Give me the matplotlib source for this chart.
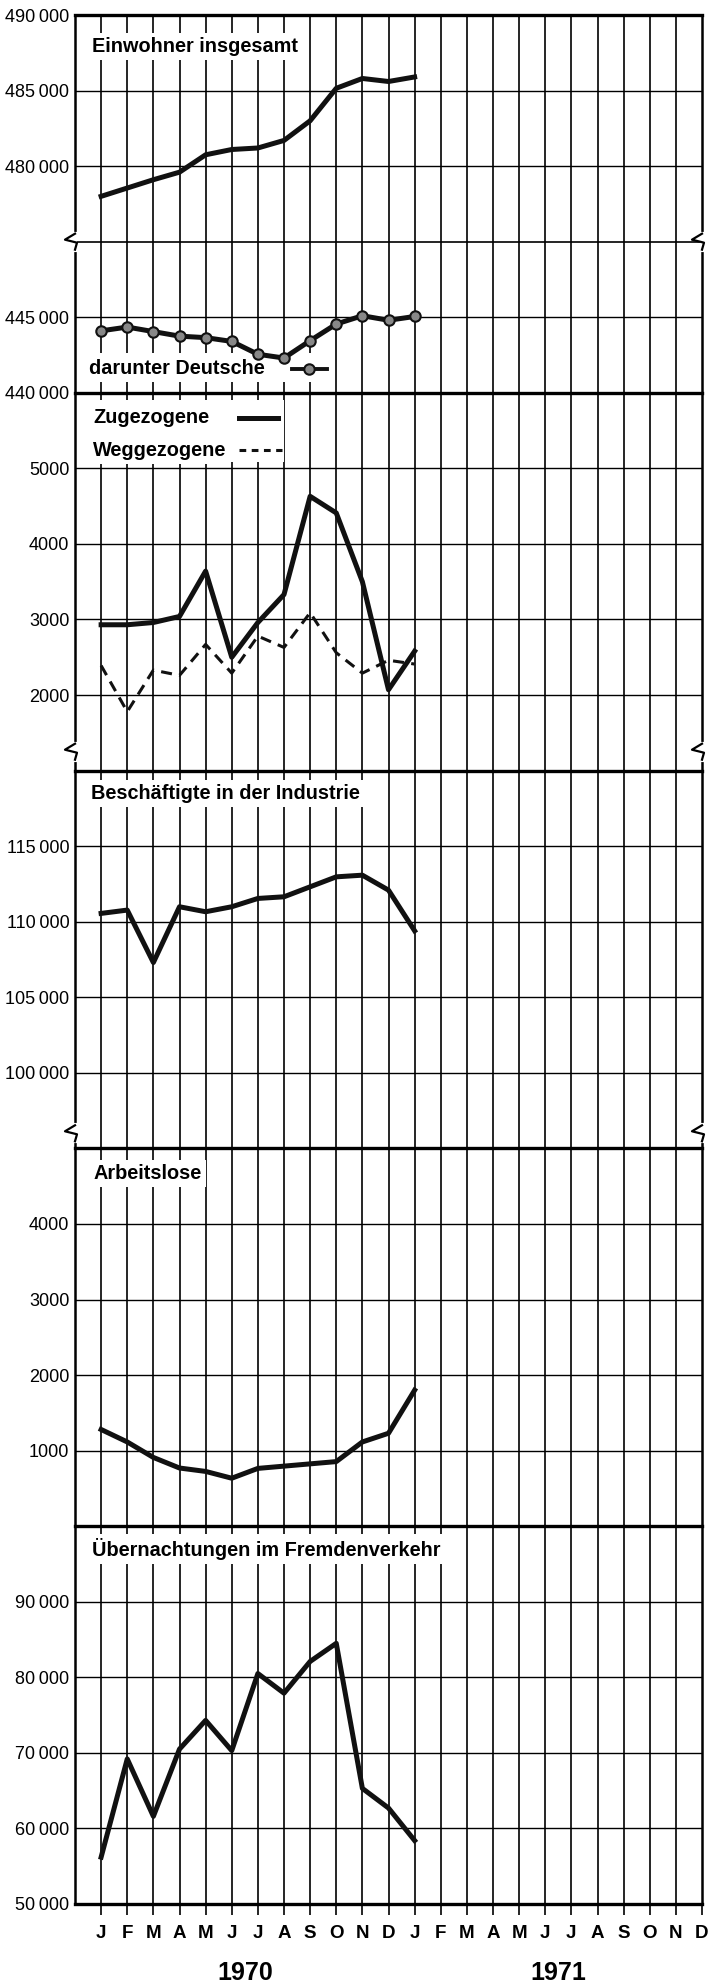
import matplotlib
matplotlib.use('Agg')
import matplotlib.pyplot as plt
from matplotlib.lines import Line2D
from matplotlib.patches import Rectangle
from matplotlib import transforms

plt.rcParams['font.family'] = ['Liberation Sans', 'DejaVu Sans']

# monatswerte jan 1970 .. jan 1971
monate = ['J', 'F', 'M', 'A', 'M', 'J', 'J', 'A', 'S', 'O', 'N', 'D'] * 2
jahre = ['1970', '1971']

einwohner = [478000, 478550, 479100, 479600, 480750, 481100, 481200, 481700,
             483000, 485150, 485800, 485600, 485900]
deutsche = [444100, 444350, 444050, 443750, 443650, 443400, 442550, 442300,
            443450, 444550, 445100, 444800, 445050]
zugezogene = [2930, 2930, 2960, 3040, 3640, 2500, 2960, 3330, 4630, 4410,
              3500, 2070, 2580]
weggezogene = [2390, 1780, 2330, 2260, 2670, 2290, 2780, 2630, 3090, 2560,
               2290, 2460, 2410]
industrie = [110550, 110770, 107300, 110990, 110660, 110990, 111540, 111650,
             112310, 112970, 113080, 112090, 109400]
arbeitslose = [1280, 1115, 910, 770, 725, 635, 765, 795, 825, 855, 1115,
               1230, 1800]
uebernachtungen = [56200, 69200, 61600, 70500, 74300, 70300, 80500, 77900,
                   82100, 84500, 65300, 62700, 58400]

x = list(range(len(einwohner)))

fig = plt.figure(figsize=(7.08, 19.87), dpi=100)
gs = fig.add_gridspec(6, 1, height_ratios=[3, 2, 5, 5, 5, 5],
                      left=75 / 708, right=702 / 708,
                      top=1 - 15 / 1987, bottom=1 - 1904 / 1987, hspace=0)
axes = [fig.add_subplot(gs[i]) for i in range(6)]
ax1a, ax1b, ax2, ax3, ax4, ax5 = axes

limits = [(475000, 490000), (440000, 450000), (1000, 6000),
          (95000, 120000), (0, 5000), (50000, 100000)]
ticks = [[480000, 485000, 490000], [440000, 445000], [2000, 3000, 4000, 5000],
         [100000, 105000, 110000, 115000], [1000, 2000, 3000, 4000],
         [50000, 60000, 70000, 80000, 90000]]


def fmt(v):
    if v >= 10000:
        return '{:,}'.format(v).replace(',', '\u2009')
    return str(v)


for ax, lim, tk in zip(axes, limits, ticks):
    ax.set_facecolor('none')
    ax.set_xlim(-1, 23)
    ax.set_ylim(*lim)
    ax.set_yticks(tk)
    ax.set_yticklabels([fmt(t) for t in tk], fontsize=13)
    ax.tick_params(axis='y', length=0, pad=4)
    for t in tk:
        if lim[0] < t < lim[1]:
            ax.axhline(t, color='black', lw=1.0, zorder=1)
    for i in range(23):
        ax.axvline(i, color='black', lw=1.2, zorder=1)
    for s in ['left', 'right']:
        ax.spines[s].set_linewidth(1.8)
    ax.spines['top'].set_linewidth(2.4)
    ax.spines['bottom'].set_visible(False)
    if ax is not ax5:
        ax.set_xticks([])

ax1a.spines['bottom'].set_visible(True)
ax1a.spines['bottom'].set_linewidth(1.2)
ax1b.spines['top'].set_visible(False)
ax5.spines['bottom'].set_visible(True)
ax5.spines['bottom'].set_linewidth(2.4)

ax5.set_xticks(range(24))
ax5.set_xticklabels(monate, fontsize=13.5, fontweight='bold')
ax5.tick_params(axis='x', direction='out', length=8, width=1.2, pad=7)
trans = transforms.blended_transform_factory(ax5.transData, ax5.transAxes)
for pos, j in zip([5.5, 17.5], jahre):
    ax5.text(pos, -0.183, j, transform=trans, ha='center', va='center',
             fontsize=18, fontweight='bold')

# kurven
lw_main = 3.6
ax1a.plot(x, einwohner, color='#111111', lw=lw_main, zorder=5,
          solid_joinstyle='round')
ax1b.plot(x, deutsche, color='#111111', lw=lw_main, marker='o', ms=7.5,
          mfc='#888888', mec='#111111', mew=1.5, zorder=5)
ax2.plot(x, zugezogene, color='#111111', lw=lw_main, zorder=5,
         solid_joinstyle='round')
ax2.plot(x, weggezogene, color='#111111', lw=2.2, ls=(0, (3.6, 2.4)), zorder=5)
ax3.plot(x, industrie, color='#111111', lw=lw_main, zorder=5,
         solid_joinstyle='round')
ax4.plot(x, arbeitslose, color='#111111', lw=lw_main, zorder=5,
         solid_joinstyle='round')
ax5.plot(x, uebernachtungen, color='#111111', lw=lw_main, zorder=5,
         solid_joinstyle='round')

box = dict(facecolor='white', edgecolor='none', pad=3)
tkw = dict(fontsize=14.3, fontweight='bold', va='center', ha='left',
           zorder=3, bbox=box)
ax1a.text(-0.35, 487900, 'Einwohner insgesamt', **tkw)
ax1b.add_patch(Rectangle((-0.55, 440700), 9.3, 1950, facecolor='white',
                         edgecolor='none', zorder=2))
ax1b.text(-0.45, 441600, 'darunter Deutsche', **tkw)
ax1b.plot([7.3, 8.65], [441600, 441600], color='#111111', lw=2.8, zorder=5)
ax1b.plot([7.95], [441600], marker='o', ms=7.5, mfc='#888888', mec='#111111',
          mew=1.5, zorder=6)

ax2.add_patch(Rectangle((-0.4, 5080), 7.4, 830, facecolor='white',
                        edgecolor='none', zorder=2))
ax2.text(-0.3, 5670, 'Zugezogene', **tkw)
ax2.text(-0.3, 5240, 'Weggezogene', **tkw)
ax2.plot([5.27, 6.77], [5670, 5670], color='#111111', lw=3.6, zorder=5)
ax2.plot([5.27, 6.92], [5240, 5240], color='#111111', lw=2.2,
         ls=(0, (2.2, 1.8)), zorder=5)

ax3.text(-0.38, 118480, 'Beschäftigte in der Industrie', **tkw)
ax4.text(-0.3, 4670, 'Arbeitslose', **tkw)
ax5.text(-0.35, 96950, 'Übernachtungen im Fremdenverkehr', **tkw)


def zigzag(ax, yval, side):
    x0 = ax.transAxes.transform((side, 0))[0]
    y0 = ax.transData.transform((0, yval))[1]
    inv = fig.transFigure.inverted()
    gap = inv.transform([(x0, y0 - 8), (x0, y0 + 8)])
    fig.add_artist(Line2D(gap[:, 0], gap[:, 1], color='white', lw=3,
                          transform=fig.transFigure, zorder=10))
    pts = [(0, 8), (-10, 2), (2, -1), (0, -8)]
    p = inv.transform([(x0 + dx, y0 + dy) for dx, dy in pts])
    fig.add_artist(Line2D(p[:, 0], p[:, 1], color='black', lw=1.6,
                          transform=fig.transFigure, zorder=11))


for side in (0, 1):
    zigzag(ax1a, 475000, side)
    zigzag(ax2, 1250, side)
    zigzag(ax3, 96000, side)

fig.savefig('out.png', dpi=100)
